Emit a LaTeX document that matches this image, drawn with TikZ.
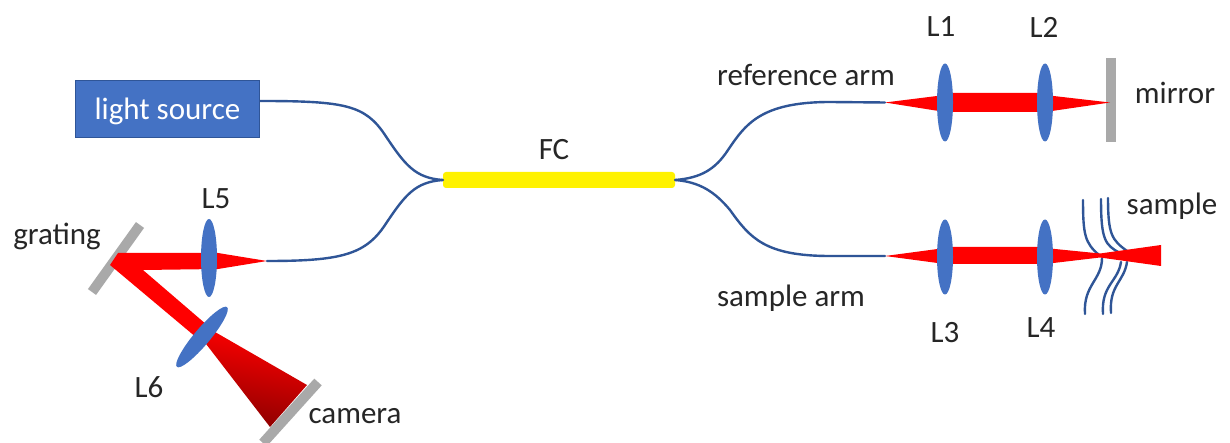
\documentclass[tikz,border=0pt]{standalone}
\usepackage{fontspec}
\setmainfont{Carlito}
\usetikzlibrary{shapes.geometric}
\definecolor{lensblue}{HTML}{4472C4}
\definecolor{fibreblue}{HTML}{2F5597}
\definecolor{bargray}{HTML}{A9A9A9}
\definecolor{txt}{HTML}{262626}
\tikzset{
  x=1pt,y=-1pt,
  every node/.style={font=\fontsize{31}{34}\selectfont,text=txt,inner sep=0pt},
  lens/.style={ellipse,fill=lensblue,minimum width=16pt,minimum height=78pt},
  fibre/.style={draw=fibreblue,line width=2.4pt,line cap=round},
  beam/.style={fill=red},
  bar/.style={draw=bargray,line width=10pt},
}
\begin{document}
\begin{tikzpicture}
\useasboundingbox (0,0) rectangle (1230,443);
\fill[white] (0,0) rectangle (1230,443);
% coordinates
\coordinate (l5tip) at (267,261);
\coordinate (reftip) at (885,102.5);
\coordinate (samtip) at (885,256);
% bars
\coordinate (g1) at (140,225);
\coordinate (g2) at (92,292);
\coordinate (c1) at (318,382);
\coordinate (c2) at (263,443);
\coordinate (m1) at (1111,58);
\coordinate (m2) at (1111,142);
\begin{scope}
\clip (0,0) rectangle (1230,443);
\draw[bar] (g1) -- (g2);
\draw[bar] (c1) -- (c2);
\draw[bar] (m1) -- (m2);
\end{scope}
% sample layers
\draw[fibre] (1083,200) .. controls (1083,235) and (1085,243) .. (1099,255);
\draw[fibre] (1102,258) .. controls (1102,280) and (1083,285) .. (1085,314);
\draw[fibre] (1101,199) .. controls (1101,240) and (1105,245) .. (1120,253);
\draw[fibre] (1121,262) .. controls (1118,282) and (1101,285) .. (1103,314);
\draw[fibre] (1108,198) .. controls (1108,235) and (1112,240) .. (1127,251);
\draw[fibre] (1127,262) .. controls (1124,282) and (1109,285) .. (1111,313);
% beams
\fill[beam] (110,265) -- (118,253) -- (209,253) -- (218,253) -- (l5tip) -- (218,269) -- (143,270) -- (207,325) -- (197,338) -- cycle;
\shade[top color=red,bottom color=red!55!black,shading angle=-10] (215,332) -- (307,385) -- (270,427) -- (203,340) -- cycle;
\fill[beam] (reftip) -- (945,95) -- (945,93) -- (1045,93) -- (1045,95) -- (1110,102.5) -- (1045,112) -- (945,112) -- cycle;
\fill[beam] (samtip) -- (945,248) -- (945,247) -- (1045,247) -- (1045,248) -- (1100,253.5) -- (1161,245) -- (1161,266) -- (1100,257.5) -- (1045,264) -- (945,264) -- cycle;
% fibre coupler
\node[fill=yellow,rounded corners=3pt,minimum width=232pt,minimum height=16pt] (fc) at (559,180) {};
\node[fill=lensblue,draw=fibreblue,line width=1.5pt,minimum width=184pt,minimum height=57pt] (src) at (167.5,109) {};
\node[text=white] (tsrc) at (167.5,111) {light source};
\coordinate (srcout) at ([yshift=8pt]src.east);
% fibres
\draw[fibre] (srcout) .. controls (345,101) and (365,105) .. (385,135) .. controls (405,165) and (415,178) .. (fc.west);
\draw[fibre] (l5tip) .. controls (340,261) and (365,255) .. (385,225) .. controls (405,195) and (415,182) .. (fc.west);
\draw[fibre] (fc.east) .. controls (700,178) and (715,170) .. (728,150) .. controls (745,125) and (760,102) .. (830,102) -- (reftip);
\draw[fibre] (fc.east) .. controls (700,182) and (715,192) .. (730,210) .. controls (750,238) and (765,256) .. (830,256) -- (samtip);
% lenses
\node[lens] (L1) at (945,102.5) {};
\node[lens] (L2) at (1045,102.5) {};
\node[lens,minimum height=75pt] (L3) at (945,257) {};
\node[lens,minimum height=75pt] (L4) at (1045,257) {};
\node[lens] (L5) at (209,258) {};
\node[lens,rotate=-40] (L6) at (202,337) {};
% labels
\node (tFC) at (554,150) {FC};
\node (tref) at (806,74.5) {reference arm};
\node (tsam) at (791,298) {sample arm};
\node (t1) at (941,27) {L1};
\node (t2) at (1044,27) {L2};
\node (t3) at (945,333) {L3};
\node (t4) at (1041,328) {L4};
\node (t5) at (216,199) {L5};
\node (t6) at (149,387) {L6};
\node (tmir) at (1175,92.5) {mirror};
\node (tsmp) at (1172,206.5) {sample};
\node (tgr) at (57,236) {grating};
\node (tcam) at (355,416.5) {camera};
\end{tikzpicture}
\end{document}
